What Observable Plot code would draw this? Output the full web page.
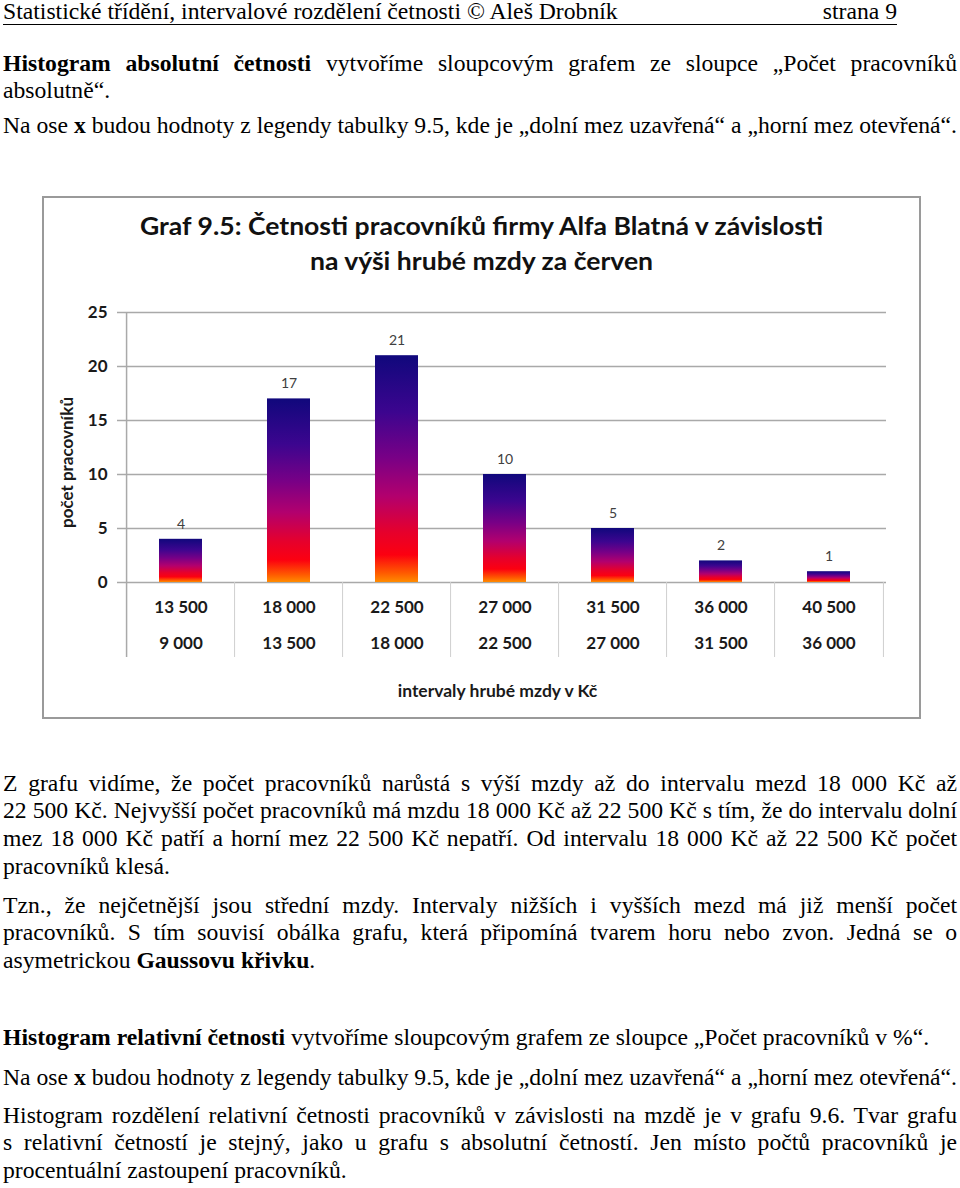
<!DOCTYPE html>
<html>
<head>
<meta charset="utf-8">
<script src="https://cdn.jsdelivr.net/npm/d3@7"></script>
<script src="https://cdn.jsdelivr.net/npm/@observablehq/plot@0.6"></script>
<style>
html, body { margin: 0; padding: 0; background: #fff; }
body { width: 960px; height: 1188px; position: relative; overflow: hidden;
  font-family: "Liberation Serif", "Times New Roman", serif; color: #000; }
.blk { position: absolute; left: 3px; transform-origin: 0 0; font-size: 23px;
  line-height: 27.7px; white-space: nowrap; }
.blk .j { text-align: justify; text-align-last: justify; white-space: nowrap; }
.hdr { line-height: 24px; padding-bottom: 0px; border-bottom: 1px solid #000;
  display: flex; justify-content: space-between; }
#frame { position: absolute; left: 42px; top: 196px; width: 879px; height: 523px;
  box-sizing: border-box; border: 2px solid #9a9a9a; }
#ctitle { position: absolute; left: 43px; top: 208px; width: 877px; text-align: center;
  font-family: Lato, "Open Sans", sans-serif; font-weight: bold; font-size: 25px;
  line-height: 35px; color: #111; transform-origin: 50% 0; white-space: nowrap; }
#chart { position: absolute; left: 43px; top: 290px; }
</style>
</head>
<body>
<div class="blk hdr" id="hdr" style="top:0px"><span>Statistické třídění, intervalové rozdělení četnosti © Aleš Drobník</span><span>strana 9</span></div>

<div class="blk" style="top:49.5px">
  <div class="j"><b>Histogram absolutní četnosti</b> vytvoříme sloupcovým grafem ze sloupce „Počet pracovníků</div>
  <div>absolutně“.</div>
</div>
<div class="blk" style="top:111.5px"><span id="ref">Na ose <b>x</b> budou hodnoty z legendy tabulky 9.5, kde je „dolní mez uzavřená“ a „horní mez otevřená“.</span></div>

<div id="frame"></div>
<div id="ctitle"><span id="tl1">Graf 9.5: Četnosti pracovníků firmy Alfa Blatná v závislosti</span><br>na výši hrubé mzdy za červen</div>
<div id="chart"></div>

<div class="blk" style="top:769.5px">
  <div class="j">Z grafu vidíme, že počet pracovníků narůstá s výší mzdy až do intervalu mezd 18&nbsp;000&nbsp;Kč až</div>
  <div class="j">22&nbsp;500&nbsp;Kč. Nejvyšší počet pracovníků má mzdu 18&nbsp;000&nbsp;Kč až 22&nbsp;500&nbsp;Kč s tím, že do intervalu dolní</div>
  <div class="j">mez 18&nbsp;000&nbsp;Kč patří a horní mez 22&nbsp;500&nbsp;Kč nepatří. Od intervalu 18&nbsp;000&nbsp;Kč až 22&nbsp;500&nbsp;Kč počet</div>
  <div>pracovníků klesá.</div>
</div>
<div class="blk" style="top:891.5px">
  <div class="j">Tzn., že nejčetnější jsou střední mzdy. Intervaly nižších i vyšších mezd má již menší počet</div>
  <div class="j">pracovníků. S tím souvisí obálka grafu, která připomíná tvarem horu nebo zvon. Jedná se o</div>
  <div>asymetrickou <b>Gaussovu křivku</b>.</div>
</div>
<div class="blk" style="top:1023.5px"><b>Histogram relativní četnosti</b> vytvoříme sloupcovým grafem ze sloupce „Počet pracovníků v %“.</div>
<div class="blk" style="top:1063.5px">Na ose <b>x</b> budou hodnoty z legendy tabulky 9.5, kde je „dolní mez uzavřená“ a „horní mez otevřená“.</div>
<div class="blk" style="top:1101.5px">
  <div class="j">Histogram rozdělení relativní četnosti pracovníků v závislosti na mzdě je v grafu 9.6. Tvar grafu</div>
  <div class="j">s relativní četností je stejný, jako u grafu s absolutní četností. Jen místo počtů pracovníků je</div>
  <div>procentuální zastoupení pracovníků.</div>
</div>

<script>
// ---- chart data ----
const lowerBounds = ["9 000", "13 500", "18 000", "22 500", "27 000", "31 500", "36 000"];
const upperBounds = ["13 500", "18 000", "22 500", "27 000", "31 500", "36 000", "40 500"];
const counts = [4, 17, 21, 10, 5, 2, 1];
const yTicks = [0, 5, 10, 15, 20, 25];
const yLabel = "počet pracovníků";
const xLabel = "intervaly hrubé mzdy v Kč";

// ---- page text fitting (horizontal scale of the serif body text) ----
const refW = document.getElementById("ref").getBoundingClientRect().width;
const k = 954 / refW;
document.querySelectorAll(".blk").forEach(el => {
  const target = el.id === "hdr" ? 894 : 954;
  el.style.width = (target / k) + "px";
  el.style.transform = `scaleX(${k})`;
});
const tW = document.getElementById("tl1").getBoundingClientRect().width;
document.getElementById("ctitle").style.transform = `scaleX(${683 / tW})`;

// ---- chart ----
const data = counts.map((c, i) => ({
  key: lowerBounds[i] + "–" + upperBounds[i],
  lower: lowerBounds[i], upper: upperBounds[i], count: c
}));
const keys = data.map(d => d.key);

const W = 877, H = 428, ML = 81, MR = 34, MT = 22, MB = 136;
const step = (W - ML - MR) / keys.length;
const yMax = d3.max(yTicks);
const axisFont = "Lato, 'Open Sans', sans-serif";
const ink = "#1a1a1a";

const chart = Plot.plot({
  width: W, height: H,
  marginLeft: ML, marginRight: MR, marginTop: MT, marginBottom: MB,
  style: {fontFamily: axisFont, background: "transparent", overflow: "visible"},
  x: {domain: keys, paddingInner: 0.6, paddingOuter: 0.3, axis: null},
  y: {domain: [0, yMax], axis: null},
  marks: [
    Plot.ruleY(yTicks, {stroke: "#a9a9a9", strokeWidth: 1.5}),
    Plot.axisY({ticks: yTicks, tickSize: 7, tickFormat: () => "", stroke: "#a9a9a9", strokeWidth: 1.5, label: null}),
    Plot.ruleX([keys[0]], {dx: -step / 2, y1: yMax, y2: 0, insetBottom: -75, stroke: "#a9a9a9", strokeWidth: 1.5}),
    Plot.ruleX(keys.slice(1), {dx: -step / 2, y1: 0, y2: 0, insetBottom: -75, stroke: "#cfcfcf", strokeWidth: 1}),
    Plot.ruleX([keys[keys.length - 1]], {dx: step / 2, y1: 0, y2: 0, insetBottom: -75, stroke: "#cfcfcf", strokeWidth: 1}),
    Plot.barY(data, {x: "key", y: "count", fill: "url(#barGrad)"}),
    Plot.text(data, {x: "key", y: "count", text: d => String(d.count), dy: -15, fontSize: 14, fill: "#404040"}),
    Plot.text(yTicks, {y: d => d, text: d => String(d), frameAnchor: "left", dx: -17, textAnchor: "end",
      fontSize: 17, fontWeight: "bold", fill: ink}),
    Plot.text(data, {x: "key", text: "upper", frameAnchor: "bottom", lineAnchor: "middle", dy: 25,
      fontSize: 17, fontWeight: "bold", fill: ink}),
    Plot.text(data, {x: "key", text: "lower", frameAnchor: "bottom", lineAnchor: "middle", dy: 61,
      fontSize: 17, fontWeight: "bold", fill: ink}),
    Plot.text([yLabel], {frameAnchor: "left", textAnchor: "middle", lineAnchor: "middle", rotate: -90,
      dx: -57, dy: 15, fontSize: 17, fontWeight: "bold", fill: ink}),
    Plot.text([xLabel], {frameAnchor: "bottom", textAnchor: "middle", lineAnchor: "middle", dx: -8, dy: 109,
      fontSize: 17.5, fontWeight: "bold", fill: ink})
  ]
});

const ns = "http://www.w3.org/2000/svg";
const defs = document.createElementNS(ns, "defs");
defs.innerHTML = `<linearGradient id="barGrad" x1="0" y1="0" x2="0" y2="1">
  <stop offset="0" stop-color="#10087c"/>
  <stop offset="0.25" stop-color="#3c058f"/>
  <stop offset="0.45" stop-color="#780086"/>
  <stop offset="0.62" stop-color="#b2006e"/>
  <stop offset="0.78" stop-color="#e6002c"/>
  <stop offset="0.88" stop-color="#fc0010"/>
  <stop offset="0.96" stop-color="#ff5a00"/>
  <stop offset="1" stop-color="#ff8c00"/>
</linearGradient>`;
chart.prepend(defs);
document.getElementById("chart").appendChild(chart);
</script>
</body>
</html>
